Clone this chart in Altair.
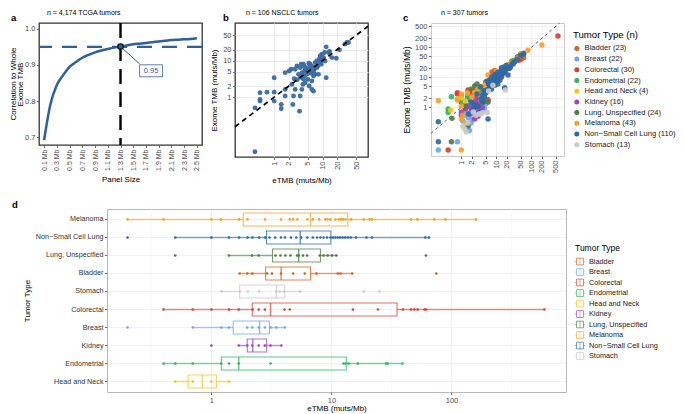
import altair as alt
import pandas as pd

FONT = "Liberation Sans"
GREY = "#4D4D4D"
A_BLUE = "#2F6098"
B_BLUE = "#3A6AA0"

# ---------------- panel a data ----------------
a_panel_sizes = [0.1, 0.2, 0.3, 0.4, 0.5, 0.6, 0.7, 0.8, 0.9, 1.0, 1.1, 1.2, 1.3,
                 1.4, 1.5, 1.6, 1.7, 1.8, 1.9, 2.0, 2.1, 2.2, 2.3, 2.4, 2.5]
a_correlation = [0.692, 0.792, 0.845, 0.872, 0.895, 0.908, 0.920, 0.928, 0.935, 0.940,
                 0.944, 0.948, 0.951, 0.954, 0.957, 0.959, 0.961, 0.963, 0.965, 0.967,
                 0.969, 0.970, 0.971, 0.972, 0.974]
a_size_ticks = [0.1, 0.3, 0.5, 0.7, 0.9, 1.1, 1.3, 1.5, 1.7, 1.9, 2.1, 2.3, 2.5]
a_corr_ticks = [0.7, 0.8, 0.9, 1.0]
a_threshold = [0.95]
a_chosen_size = [1.3]
a_chosen_corr = [0.951]
a_label = ["0.95"]
a_label_size = [1.78]
a_label_corr = [0.884]
a_connector_size = [1.6]
a_connector_corr = [0.903]
a_y_title_outer = ["Correlation to Whole"]
a_y_title_inner = "Exome TMB"

# ---------------- panel b data (NSCLC) ----------------
b_etmb = [0.40, 0.40, 0.51, 0.51, 0.51, 0.71, 1.0, 1.0, 1.0, 1.40, 1.40, 1.69, 1.69, 1.69,
          2.04, 2.32, 2.43, 2.51, 2.72, 3.34, 3.45, 3.73, 3.92, 4.04, 4.24, 4.24, 4.37, 4.73,
          4.73, 4.97, 5.29, 5.29, 5.55, 6.01, 6.5, 6.5, 6.82, 7.04, 7.62, 8.0, 8.5, 8.93, 8.93,
          9.37, 9.68, 10.5, 11.0, 11.3, 11.9, 11.9, 13.3, 14.0, 15.6, 19.2, 22.4, 29.3, 31.8,
          34.4, 3.19, 2.94, 3.45, 3.73, 3.62, 4.04, 2.72, 2.25, 6.01, 7.04, 8.26, 7.62, 9.68,
          5.0, 5.5, 6.0, 4.5, 5.8, 6.5, 7.0, 3.0, 3.5, 2.6, 4.2, 5.2]
b_exome = [0.032, 0.51, 0.78, 0.86, 1.32, 1.37, 1.37, 0.78, 3.41, 0.63, 0.48, 1.07, 1.63, 4.68,
           5.2, 2.23, 0.63, 1.07, 1.63, 0.41, 1.07, 1.63, 2.23, 3.07, 5.2, 3.79, 2.48, 6.42,
           4.21, 3.07, 2.01, 5.2, 7.94, 1.63, 1.46, 3.79, 5.78, 8.83, 6.42, 7.14, 10.9, 8.83, 13.5,
           7.94, 15.0, 12.1, 16.6, 9.8, 23.8, 3.41, 16.6, 17.7, 12.1, 11.6, 19.7, 28.3, 31.4,
           31.4, 4.21, 7.14, 6.42, 4.68, 7.94, 7.94, 5.78, 5.78, 2.76, 4.21, 4.21, 9.8, 10.9,
           5.0, 6.0, 7.0, 5.5, 4.5, 5.0, 6.5, 3.0, 3.5, 3.2, 6.8, 8.5]
b_ticks = [1, 2, 5, 10, 20, 50]
b_diag = [0.155, 87]

# ---------------- panel c data ----------------
tumor_types = ["Bladder", "Breast", "Colorectal", "Endometrial", "Head and Neck", "Kidney",
               "Lung, Unspecified", "Melanoma", "Non\u2212Small Cell Lung", "Stomach"]
tumor_counts = [23, 22, 30, 22, 4, 16, 24, 43, 110, 13]
tumor_colors = ["#D9621A", "#6FA6EE", "#D0423A", "#2EB563", "#F4C61A", "#9A47C4",
                "#4F7C45", "#F5A229", "#2F68A6", "#C9C9C9"]

c_bladder_x = [1.2, 1.5, 1.8, 2.0, 2.5, 2.8, 3.3, 3.8, 4.5, 5.0, 6.0, 7.5, 8.0, 9.0, 11, 13, 14, 16, 21, 22, 28, 47, 60]
c_bladder_y = [1.5, 2.0, 1.0, 3.2, 3.6, 2.5, 4.0, 2.5, 1.5, 3.2, 7.0, 15, 8.5, 17, 13, 11, 19, 21, 26, 20, 35, 50, 45]
c_breast_x = [0.22, 0.77, 1.2, 1.2, 1.4, 1.55, 1.7, 1.9, 2.0, 2.0, 2.4, 2.6, 2.7, 3.0, 3.0, 3.3, 4.6, 5.0, 1.6, 2.2, 3.6, 1.1]
c_breast_y = [0.038, 0.071, 0.53, 1.2, 0.7, 0.24, 0.17, 0.3, 0.4, 0.9, 0.6, 0.95, 1.2, 1.47, 0.5, 1.8, 0.88, 1.3, 0.45, 0.75, 1.1, 0.35]
c_colorectal_x = [0.42, 0.77, 0.77, 1.0, 1.3, 1.55, 2.2, 2.6, 3.2, 4.0, 5.8, 9.0, 14, 17.3, 21.5, 33, 40, 44, 50, 575, 1.0, 6.5, 11, 2.0]
c_colorectal_y = [0.038, 2.78, 3.1, 1.47, 0.9, 3.8, 3.5, 2.0, 1.3, 2.5, 1.8, 6.8, 10, 14.7, 25, 34, 48, 37, 40, 240, 2.4, 5.0, 8.5, 2.9]
c_endometrial_x = [0.42, 0.42, 0.52, 1.1, 1.5, 1.7, 2.2, 3.5, 8.5, 9.0, 14, 17.3, 21.5, 25, 26.8, 30, 33, 40]
c_endometrial_y = [0.88, 0.68, 2.26, 1.6, 2.4, 1.9, 1.4, 3.0, 7.0, 10, 17, 23, 24, 27, 31.6, 30, 37, 45]
c_headneck_x = [0.5, 0.77, 1.0, 1.3]
c_headneck_y = [0.8, 1.9, 2.1, 1.6]
c_kidney_x = [1.0, 1.0, 1.3, 1.55, 1.8, 1.93, 2.2, 2.4, 2.5, 2.6, 2.8, 3.0, 3.0, 3.3, 3.7, 4.0]
c_kidney_y = [0.55, 0.7, 0.95, 1.13, 0.6, 0.88, 1.3, 0.41, 1.6, 0.5, 1.0, 0.53, 0.68, 1.1, 0.8, 1.0]
c_lung_x = [0.52, 0.54, 1.3, 1.55, 1.9, 2.4, 2.8, 3.0, 3.5, 4.0, 4.5, 5.0, 5.8, 6.5, 7.5, 9.0, 10, 12, 15, 20, 28, 41, 50, 60]
c_lung_y = [0.071, 0.43, 1.1, 0.24, 4.0, 5.2, 6.0, 3.4, 2.5, 1.5, 4.0, 7.0, 1.5, 8.0, 6.0, 9.0, 12, 13, 16, 20, 32, 48, 60, 63]
c_melanoma_x = [0.22, 0.77, 1.0, 1.0, 1.0, 1.0, 1.1, 1.5, 2.0, 2.4, 3.0, 3.7, 4.6, 5.8, 6.5, 7.2, 8.0, 9.0, 10, 11.2, 13.9, 17.3, 21.5, 26, 41, 52, 80, 200, 1.3, 3.3, 5.0, 12.5]
c_melanoma_y = [1.66, 1.75, 2.78, 0.038, 0.41, 1.1, 0.55, 3.0, 2.2, 3.16, 4.0, 5.0, 5.5, 12.0, 5.5, 6.8, 9.5, 8.0, 16, 12.5, 17, 20, 26, 30, 44, 60, 80, 120, 0.3, 2.6, 6.0, 10.5]
c_nsclc_x = [0.22, 0.22, 1.6, 1.9, 2.2, 2.4, 2.8, 3.0, 3.3, 3.7, 4.0, 4.2, 4.6, 5.0, 5.5, 5.8, 5.8, 6.0, 6.5, 7.2, 7.2, 7.5, 8.0, 8.5, 9.0, 9.0, 9.5, 10, 10, 11, 11.2, 11.2, 12, 12.5, 13.9, 13.9, 14, 15, 16, 17.3, 17.3, 19, 20, 21.5, 24, 25, 28, 30, 33, 40, 50, 60, 4.5, 6.8, 8.8, 3.5]
c_nsclc_y = [0.071, 0.33, 0.6, 1.47, 0.9, 1.2, 2.8, 1.1, 0.7, 1.9, 2.5, 1.5, 2.2, 3.0, 7.5, 0.41, 4.0, 6.0, 5.2, 4.0, 6.5, 10.5, 8.0, 9.5, 5.5, 11.3, 13, 7.5, 10, 6.0, 9.0, 14.7, 12, 8.0, 11, 16, 21, 13, 19, 14.7, 4.5, 25, 18.9, 12, 20, 22, 28, 28, 33, 40, 55, 60, 3.5, 8.5, 7.0, 4.8]
c_stomach_x = [1.1, 1.25, 1.39, 1.55, 2.2, 2.6, 3.2, 3.6, 4.0, 5.5, 6.0, 8.0, 18]
c_stomach_y = [0.24, 0.19, 0.15, 0.3, 0.7, 0.55, 0.6, 0.6, 0.66, 0.68, 3.5, 5.5, 3.8]
c_ticks = [1, 2, 5, 10, 20, 50, 100, 200, 500]
c_diag = [0.136, 646]

# ---------------- panel d data ----------------
d_order = ["Melanoma", "Non\u2212Small Cell Lung", "Lung, Unspecified", "Bladder", "Stomach",
           "Colorectal", "Breast", "Kidney", "Endometrial", "Head and Neck"]
d_low = [0.2, 0.5, 1.4, 1.72, 1.21, 0.4, 0.7, 1.69, 0.4, 0.5]
d_q1 = [1.84, 2.88, 3.23, 2.83, 1.72, 2.19, 1.52, 1.99, 1.21, 0.64]
d_median = [6.7, 5.5, 5.34, 3.81, 3.48, 3.11, 2.52, 2.21, 1.69, 0.84]
d_q3 = [13.7, 9.9, 8.1, 6.7, 4.09, 35.2, 3.05, 2.88, 13.3, 1.10]
d_high = [160, 65, 11.0, 14.9, 5.5, 595, 4.09, 3.83, 39, 1.4]
d_melanoma = [0.2, 0.4, 1.0, 1.2, 1.7, 2.0, 2.8, 3.8, 4.5, 4.8, 5.2, 6.3, 7.0, 7.9, 8.9, 9.3, 9.8,
              10.8, 11.5, 12.0, 12.5, 13.1, 14.6, 18.6, 20.8, 21.8, 46, 52, 72, 89, 160]
d_nsclc = [0.2, 0.5, 1.0, 1.4, 1.7, 2.0, 2.2, 2.5, 2.8, 3.05, 3.4, 3.8, 4.1, 4.6, 5.1, 5.6, 6.3,
           7.0, 7.6, 8.1, 8.6, 9.2, 9.8, 10.3, 10.8, 11.3, 11.8, 12.4, 13.0, 13.7, 14.5, 16.0,
           19.6, 21.8, 60.5, 65]
d_lung = [0.5, 1.4, 2.18, 2.48, 3.42, 3.76, 4.14, 4.56, 5.18, 5.34, 5.8, 6.27, 8.0, 8.6, 9.3,
          10.1, 11.0, 61.3]
d_bladder = [1.72, 1.99, 2.19, 2.91, 3.2, 3.8, 4.8, 6.0, 7.5, 11.3, 11.9, 14.9, 74.8]
d_stomach = [1.21, 1.73, 2.01, 2.5, 3.48, 3.71, 4.0, 5.5, 18.6, 25.1]
d_colorectal = [0.40, 0.70, 1.0, 1.40, 1.69, 2.21, 2.48, 2.79, 4.06, 4.5, 15.1, 24.4, 39.5, 46,
                49, 52.3, 59.7, 61.3, 595]
d_breast = [0.20, 0.70, 1.21, 1.40, 1.99, 2.19, 2.48, 2.79, 3.11, 3.48, 4.09]
d_kidney = [1.0, 1.69, 1.99, 2.19, 2.48, 2.79, 3.11, 3.83]
d_endometrial = [0.40, 0.50, 0.70, 1.21, 1.40, 1.69, 3.11, 12.6, 13.1, 13.9, 16.6, 28.5, 29.4, 39]
d_headneck = [0.50, 0.70, 1.0, 1.40]
d_ticks = [1, 10, 100]
d_minor = [0.316, 3.16, 31.6, 316]


def axis(**kw):
    base = dict(labelFont=FONT, labelFontSize=7.5, labelColor=GREY, tickColor=GREY,
                tickSize=2.5, tickWidth=0.8, domain=False, titleFont=FONT, titleFontSize=8,
                titleFontWeight="normal", titleColor="black", labelPadding=1.5,
                labelOverlap=False, tickCount=30)
    base.update(kw)
    return alt.Axis(**base)


def letter(txt, dx, dy):
    return alt.Chart(pd.DataFrame({"t": [txt]})).mark_text(
        font=FONT, fontSize=9.5, fontWeight="bold", align="left", baseline="alphabetic",
        color="black").encode(text="t:N", x=alt.value(dx), y=alt.value(dy))


def panel_title(txt, dx):
    return alt.TitleParams(txt, anchor="start", frame="group", dx=dx, dy=3, fontSize=7,
                           font=FONT, fontWeight="normal", offset=0, color="black")


# ---------------- panel a ----------------
A_W, A_H = 163, 122
a_df = pd.DataFrame({"size": a_panel_sizes, "corr": a_correlation})
a_xscale = alt.Scale(domain=[0.02, 2.58], nice=False, zero=False)
a_yscale = alt.Scale(domain=[0.679, 1.016], nice=False, zero=False)
a_x = alt.X("size:Q", scale=a_xscale,
            axis=axis(values=a_size_ticks, labelExpr="format(datum.value, '.1f') + ' Mb'",
                      labelAngle=-90, grid=False, title="Panel Size", titlePadding=5,
                      labelFontSize=7))
a_y = alt.Y("corr:Q", scale=a_yscale,
            axis=axis(values=a_corr_ticks, format=".1f", grid=False,
                      title=a_y_title_inner, titlePadding=0.5))

a_line = alt.Chart(a_df).mark_line(color=A_BLUE, strokeWidth=2.5, interpolate="monotone").encode(a_x, a_y)
a_h = alt.Chart(pd.DataFrame({"corr": a_threshold})).mark_rule(
    color=A_BLUE, strokeWidth=2.4, strokeDash=[15, 10]).encode(y=alt.Y("corr:Q", scale=a_yscale))
a_v = alt.Chart(pd.DataFrame({"size": a_chosen_size})).mark_rule(
    color="black", strokeWidth=2.4, strokeDash=[15, 8]).encode(x=alt.X("size:Q", scale=a_xscale))
a_ann = pd.DataFrame({"size": a_chosen_size, "corr": a_chosen_corr,
                      "size2": a_connector_size, "corr2": a_connector_corr,
                      "lsize": a_label_size, "lcorr": a_label_corr, "label": a_label})
a_conn = alt.Chart(a_ann).mark_rule(color=A_BLUE, strokeWidth=1).encode(
    x="size:Q", y="corr:Q", x2="size2:Q", y2="corr2:Q")
a_pt = alt.Chart(a_ann).mark_point(shape="circle", size=30, filled=True, fill=A_BLUE,
                                   stroke="#151515", strokeWidth=1.3, opacity=1).encode(
    x="size:Q", y="corr:Q")
a_box = alt.Chart(a_ann).mark_point(shape="M-1,-0.52H1V0.52H-1Z", size=529, filled=True,
                                    fill="white", stroke=A_BLUE, strokeWidth=0.8,
                                    opacity=1).encode(x="lsize:Q", y="lcorr:Q")
a_txt = alt.Chart(a_ann).mark_text(font=FONT, fontSize=7.5, color=A_BLUE).encode(
    x="lsize:Q", y="lcorr:Q", text="label:N")
a_outer_title = alt.Chart(pd.DataFrame({"t": a_y_title_outer})).mark_text(
    font=FONT, fontSize=8, angle=270, align="center", baseline="middle", color="black").encode(
    text="t:N", x=alt.value(-25.5), y=alt.value(A_H / 2))

panel_a = alt.layer(a_line, a_h, a_v, a_conn, a_pt, a_box, a_txt, a_outer_title,
                    letter("a", -28, -2)).properties(
    width=A_W, height=A_H, title=panel_title("n = 4,174 TCGA tumors", 8),
    view=alt.ViewBackground(stroke="#333333", strokeWidth=1.3))

# ---------------- panel b ----------------
b_df = pd.DataFrame({"etmb_b": b_etmb, "exome_b": b_exome})
b_xscale = alt.Scale(type="log", domain=[0.155, 87], nice=False)
b_yscale = alt.Scale(type="log", domain=[0.023, 107], nice=False)
b_x = alt.X("etmb_b:Q", scale=b_xscale,
            axis=axis(values=b_ticks, format="d", labelAngle=-90, title="eTMB (muts/Mb)",
                      grid=True, gridColor="#EBEBEB", gridWidth=1.2, titlePadding=7))
b_y = alt.Y("exome_b:Q", scale=b_yscale,
            axis=axis(values=b_ticks, format="d", title="Exome TMB (muts/Mb)",
                      grid=True, gridColor="#EBEBEB", gridWidth=1.2, titlePadding=4))
b_pts = alt.Chart(b_df).mark_circle(size=24, color=B_BLUE, opacity=0.95).encode(b_x, b_y)
b_line = alt.Chart(pd.DataFrame({"etmb_b": b_diag, "exome_b": b_diag})).mark_line(
    color="black", strokeWidth=1.7, strokeDash=[5, 4]).encode(
    x=alt.X("etmb_b:Q", scale=b_xscale), y=alt.Y("exome_b:Q", scale=b_yscale))
panel_b = alt.layer(b_pts, b_line, letter("b", -12, -2)).properties(
    width=133, height=134, title=panel_title("n = 106 NSCLC tumors", 11),
    view=alt.ViewBackground(stroke="#333333", strokeWidth=1.3))

# ---------------- panel c ----------------
c_groups = [c_bladder_x, c_breast_x, c_colorectal_x, c_endometrial_x, c_headneck_x,
            c_kidney_x, c_lung_x, c_melanoma_x, c_nsclc_x, c_stomach_x]
c_groups_y = [c_bladder_y, c_breast_y, c_colorectal_y, c_endometrial_y, c_headneck_y,
              c_kidney_y, c_lung_y, c_melanoma_y, c_nsclc_y, c_stomach_y]
c_labels = [f"{t} ({n})" for t, n in zip(tumor_types, tumor_counts)]
c_rows = []
for lab, xs, ys in zip(c_labels, c_groups, c_groups_y):
    for xv, yv in zip(xs, ys):
        c_rows.append({"etmb_c": xv, "exome_c": yv, "type_c": lab})
c_df = pd.DataFrame(c_rows)
c_xscale = alt.Scale(type="log", domain=[0.136, 855], nice=False)
c_yscale = alt.Scale(type="log", domain=[0.024, 646], nice=False)
c_x = alt.X("etmb_c:Q", scale=c_xscale,
            axis=axis(values=c_ticks, format="d", labelAngle=-90, title=None,
                      grid=True, gridColor="#EDEDED", gridWidth=0.8))
c_y = alt.Y("exome_c:Q", scale=c_yscale,
            axis=axis(values=c_ticks, format="d", title="Exome TMB (muts/Mb)",
                      grid=True, gridColor="#EDEDED", gridWidth=0.8, titlePadding=3,
                      titleFontSize=8.5))
c_pts = alt.Chart(c_df).mark_circle(size=30, opacity=0.92).encode(
    c_x, c_y,
    color=alt.Color("type_c:N", scale=alt.Scale(domain=c_labels, range=tumor_colors),
                    legend=alt.Legend(orient="none", legendX=142, legendY=7,
                                      title="Tumor Type (n)", titleFont=FONT,
                                      titleFontSize=9.6, titleFontWeight="normal",
                                      titleColor="black", labelFont=FONT, labelFontSize=7.6,
                                      labelColor="#1A1A1A", symbolType="circle",
                                      symbolSize=25, rowPadding=1.7, titlePadding=5,
                                      symbolOpacity=1)))
c_line = alt.Chart(pd.DataFrame({"etmb_c": c_diag, "exome_c": c_diag})).mark_line(
    color="#333333", strokeWidth=0.8, strokeDash=[3, 3]).encode(
    x=alt.X("etmb_c:Q", scale=c_xscale), y=alt.Y("exome_c:Q", scale=c_yscale))
panel_c = alt.layer(c_line, c_pts, letter("c", -28, -2)).properties(
    width=133, height=133, title=panel_title("n = 307 tumors", 10),
    view=alt.ViewBackground(stroke="#CCCCCC", strokeWidth=1))

# ---------------- panel d ----------------
d_box_df = pd.DataFrame({"type_d": d_order, "low": d_low, "q1": d_q1, "med": d_median,
                         "q3": d_q3, "high": d_high})
d_point_lists = [d_melanoma, d_nsclc, d_lung, d_bladder, d_stomach, d_colorectal, d_breast,
                 d_kidney, d_endometrial, d_headneck]
d_rows = []
for t, vals in zip(d_order, d_point_lists):
    for v in vals:
        d_rows.append({"type_d": t, "low": v})
d_pts_df = pd.DataFrame(d_rows)

D_KEY = ("M-0.75,-0.75H0.75V0.75H-0.75Z M-0.6,-0.6V0.6H0.6V-0.6Z "
         "M-0.06,-0.6H0.06V0.6H-0.06Z M-1.05,-0.06H-0.75V0.06H-1.05Z M0.75,-0.06H1.05V0.06H0.75Z")
d_legend = alt.Legend(orient="none", legendX=468, legendY=35,
                      title="Tumor Type", titleFont=FONT, titleFontSize=8.5,
                      titleFontWeight="normal", titleColor="black",
                      labelFont=FONT, labelFontSize=7.3, labelColor="#1A1A1A",
                      symbolType=D_KEY, symbolSize=100, symbolStrokeWidth=0, rowPadding=1.5,
                      titlePadding=4, symbolOpacity=0.85)
d_color = alt.Color("type_d:N", scale=alt.Scale(domain=tumor_types, range=tumor_colors),
                    legend=d_legend)
D_H = 183
d_xscale = alt.Scale(type="log", domain=[0.135, 900], nice=False)
d_yscale = alt.Scale(domain=d_order, paddingInner=0, paddingOuter=0.08)
d_y = alt.Y("type_d:N", scale=d_yscale, sort=d_order,
            axis=axis(title="Tumor Type", grid=True, gridColor="#EDEDED", gridWidth=0.8,
                      bandPosition=0.5, labelFontSize=7.2, labelColor="#333333",
                      titlePadding=4))
d_x = alt.X("low:Q", scale=d_xscale,
            axis=axis(values=d_ticks, format="d", title="eTMB (muts/Mb)", grid=True,
                      gridColor="#EDEDED", gridWidth=0.8, titlePadding=1))

d_minor_rules = alt.Chart(pd.DataFrame({"low": d_minor})).mark_rule(
    color="#F3F3F3", strokeWidth=0.6).encode(x=alt.X("low:Q", scale=d_xscale))
d_boxes = alt.Chart(d_box_df).mark_bar(filled=False, height=13, strokeWidth=1.1, opacity=0.75).encode(
    x=alt.X("q1:Q", scale=d_xscale), x2="q3:Q", y=d_y, color=d_color)
d_wlo = alt.Chart(d_box_df).mark_rule(strokeWidth=1.5, opacity=0.6).encode(
    x=d_x, x2="q1:Q", y=d_y, color=d_color)
d_whi = alt.Chart(d_box_df).mark_rule(strokeWidth=1.5, opacity=0.6).encode(
    x=alt.X("q3:Q", scale=d_xscale), x2="high:Q", y=d_y, color=d_color)
d_meds = alt.Chart(d_box_df).mark_tick(orient="vertical", thickness=1.5, size=13).encode(
    x=alt.X("med:Q", scale=d_xscale), y=d_y, color=d_color)
d_pts = alt.Chart(d_pts_df).mark_circle(size=7, opacity=1).encode(
    x=alt.X("low:Q", scale=d_xscale), y=d_y, color=d_color)

panel_d = alt.layer(d_minor_rules, d_boxes, d_wlo, d_whi, d_meds, d_pts,
                    letter("d", -95, -1.5)).properties(
    width=459, height=D_H, view=alt.ViewBackground(stroke="#B8B8B8", strokeWidth=1))

# tiny empty view; panel d is placed relative to it so that its plot starts further right
spacer = alt.Chart(pd.DataFrame({"v": [0]})).mark_point(opacity=0).encode(
    x=alt.value(0), y=alt.value(0)).properties(
    width=1, height=1, view=alt.ViewBackground(stroke="transparent"))

IND = dict(color="independent", x="independent", y="independent")
inner = alt.hconcat(panel_a, panel_b, spacing=6).resolve_scale(**IND)
top = alt.hconcat(inner, panel_c, spacing=28).resolve_scale(**IND).resolve_legend(
    color="independent")
bottom = alt.hconcat(spacer, panel_d, spacing=-32).resolve_scale(**IND).resolve_legend(
    color="independent")
chart = alt.vconcat(top, bottom, spacing=14).resolve_scale(**IND).resolve_legend(
    color="independent").properties(padding=0, background="white").configure(
    font=FONT).configure_axis(labelOverlap=False)

chart.save("out.html", embed_options={"renderer": "svg", "actions": False})
